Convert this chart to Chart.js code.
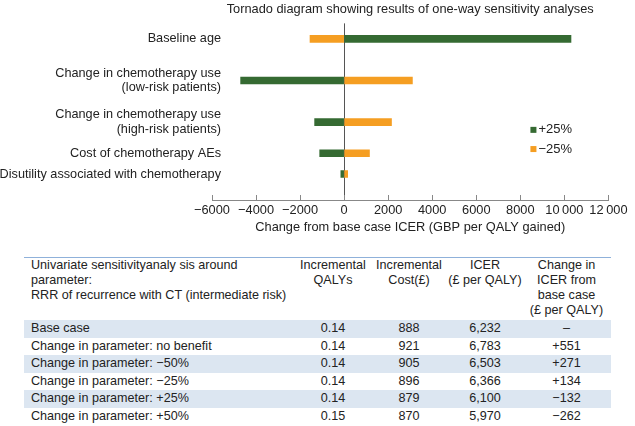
<!DOCTYPE html>
<html lang="en">
<head>
<meta charset="UTF-8">
<title>Tornado diagram</title>
<script src="https://cdn.jsdelivr.net/npm/chart.js"></script>
<style>
    body { margin: 0; background: #fff; font-family: "Liberation Sans", Arial, sans-serif; color: #222; }
    #chartBox { position: relative; width: 635px; height: 245px; }
    table { border-collapse: collapse; table-layout: fixed; width: 587px; margin: 12px 0 0 24px; font-size: 12.6px; }
    thead th { font-weight: normal; line-height: 15px; vertical-align: top; padding: 0 0 2px 0; text-align: center; border-top: 1px solid #8fb1da; }
    thead th:first-child { text-align: left; padding-left: 7px; }
    tbody td { height: 17.6px; line-height: 17.6px; padding: 0; text-align: center; }
    tbody td:first-child { text-align: left; padding-left: 7px; }
    tbody tr.shade td { background: #dce6f1; }
    tbody tr:last-child td { border-bottom: 2px solid #6b93c6; }
</style>
</head>
<body>

<div id="chartBox"><canvas id="tornado"></canvas></div>

<table id="sens">
    <colgroup>
        <col style="width:272px"><col style="width:74px"><col style="width:78px"><col style="width:74px"><col style="width:89px">
    </colgroup>
    <thead>
    <tr>
        <th>Univariate sensitivityanaly sis around<br>parameter:<br>RRR of recurrence with CT (intermediate risk)</th>
        <th>Incremental<br>QALYs</th>
        <th>Incremental<br>Cost(£)</th>
        <th>ICER<br>(£ per QALY)</th>
        <th>Change in<br>ICER from<br>base case<br>(£ per QALY)</th>
    </tr>
    </thead>
    <tbody id="sensBody"></tbody>
</table>

<script>
    // tornado chart data
    const categories = [
        'Baseline age',
        ['Change in chemotherapy use', '(low-risk patients)'],
        ['Change in chemotherapy use', '(high-risk patients)'],
        'Cost of chemotherapy AEs',
        'Disutility associated with chemotherapy'
    ];
    const plus25 = [10300, -4700, -1340, -1110, -150];
    const minus25 = [-1550, 3100, 2150, 1150, 160];

    // table data
    const rowNames = ['Base case', 'Change in parameter: no benefit', 'Change in parameter: \u221250%',
        'Change in parameter: \u221225%', 'Change in parameter: +25%', 'Change in parameter: +50%'];
    const incQalys = ['0.14', '0.14', '0.14', '0.14', '0.14', '0.15'];
    const incCost = ['888', '921', '905', '896', '879', '870'];
    const icer = ['6,232', '6,783', '6,503', '6,366', '6,100', '5,970'];
    const icerChange = ['\u2013', '+551', '+271', '+134', '\u2212132', '\u2212262'];

    const FONT = '"Liberation Sans", Arial, sans-serif';
    const TXT = '#222';

    // rows in the original are not evenly spaced, so put them on slots of a finer category axis
    const rowSlot = [1, 5, 9, 12, 14];
    const slotCount = 17;
    const slotLabels = new Array(slotCount).fill('');
    const plusData = new Array(slotCount).fill(null);
    const minusData = new Array(slotCount).fill(null);
    rowSlot.forEach((s, i) => {
        slotLabels[s] = categories[i];
        plusData[s] = plus25[i];
        minusData[s] = minus25[i];
    });

    function fmtTick(v) {
        let s = Math.abs(v).toString();
        if (s.length > 4) s = s.slice(0, s.length - 3) + '\u2009' + s.slice(-3);
        return (v < 0 ? '\u2212' : '') + s;
    }

    const sideLegend = {
        id: 'sideLegend',
        afterDraw(chart) {
            const {ctx, chartArea} = chart;
            const x = chartArea.right - 78;
            const y = chartArea.top + 106.5;
            ctx.save();
            ctx.font = '13px ' + FONT;
            ctx.textBaseline = 'middle';
            chart.data.datasets.forEach((ds, i) => {
                const yy = y + i * 19.2;
                ctx.fillStyle = ds.backgroundColor;
                ctx.fillRect(x, yy - 3, 6, 6);
                ctx.fillStyle = TXT;
                ctx.fillText(ds.label, x + 8, yy);
            });
            ctx.restore();
        }
    };

    new Chart(document.getElementById('tornado'), {
        type: 'bar',
        data: {
            labels: slotLabels,
            datasets: [
                {label: '+25%', data: plusData, backgroundColor: '#356a32', barThickness: 7, grouped: false},
                {label: '\u221225%', data: minusData, backgroundColor: '#f59e22', barThickness: 7, grouped: false}
            ]
        },
        options: {
            indexAxis: 'y',
            responsive: true,
            maintainAspectRatio: false,
            animation: false,
            plugins: {
                legend: {display: false},
                tooltip: {enabled: false},
                title: {
                    display: true,
                    fullSize: false,
                    text: 'Tornado diagram showing results of one-way sensitivity analyses',
                    color: TXT,
                    font: {family: FONT, size: 12.8, weight: 'normal', lineHeight: 1.2},
                    padding: {top: 2, bottom: 6}
                }
            },
            scales: {
                x: {
                    type: 'linear',
                    min: -6000,
                    max: 12000,
                    afterFit: s => { s.height = 45; },
                    ticks: {
                        stepSize: 2000,
                        autoSkip: false,
                        maxRotation: 0,
                        padding: 7.5,
                        color: TXT,
                        font: {family: FONT, size: 12.8},
                        callback: v => fmtTick(v)
                    },
                    grid: {
                        color: c => (c.tick && c.tick.value === 0) ? '#555' : 'rgba(0,0,0,0)',
                        tickColor: '#888',
                        tickLength: -5
                    },
                    border: {display: true, color: '#888'},
                    title: {
                        display: true,
                        text: 'Change from base case ICER (GBP per QALY gained)',
                        color: TXT,
                        font: {family: FONT, size: 12.8},
                        padding: {top: 0, bottom: 9.5}
                    }
                },
                y: {
                    type: 'category',
                    offset: true,
                    afterFit: s => {
                        s.width = 212;
                        // labels run a little past the plot's left edge, so do not clip them to the axis box
                        s._computeLabelArea = () => undefined;
                    },
                    grid: {display: false, drawTicks: false},
                    border: {display: false},
                    ticks: {
                        autoSkip: false,
                        padding: -9,
                        color: TXT,
                        font: {family: FONT, size: 12.7, lineHeight: 1.17}
                    }
                }
            }
        },
        plugins: [sideLegend]
    });

    // build the table body
    const body = document.getElementById('sensBody');
    rowNames.forEach((name, i) => {
        const tr = document.createElement('tr');
        if (i % 2 === 0) tr.className = 'shade';
        [name, incQalys[i], incCost[i], icer[i], icerChange[i]].forEach(t => {
            const td = document.createElement('td');
            td.textContent = t;
            tr.appendChild(td);
        });
        body.appendChild(tr);
    });
</script>
</body>
</html>
